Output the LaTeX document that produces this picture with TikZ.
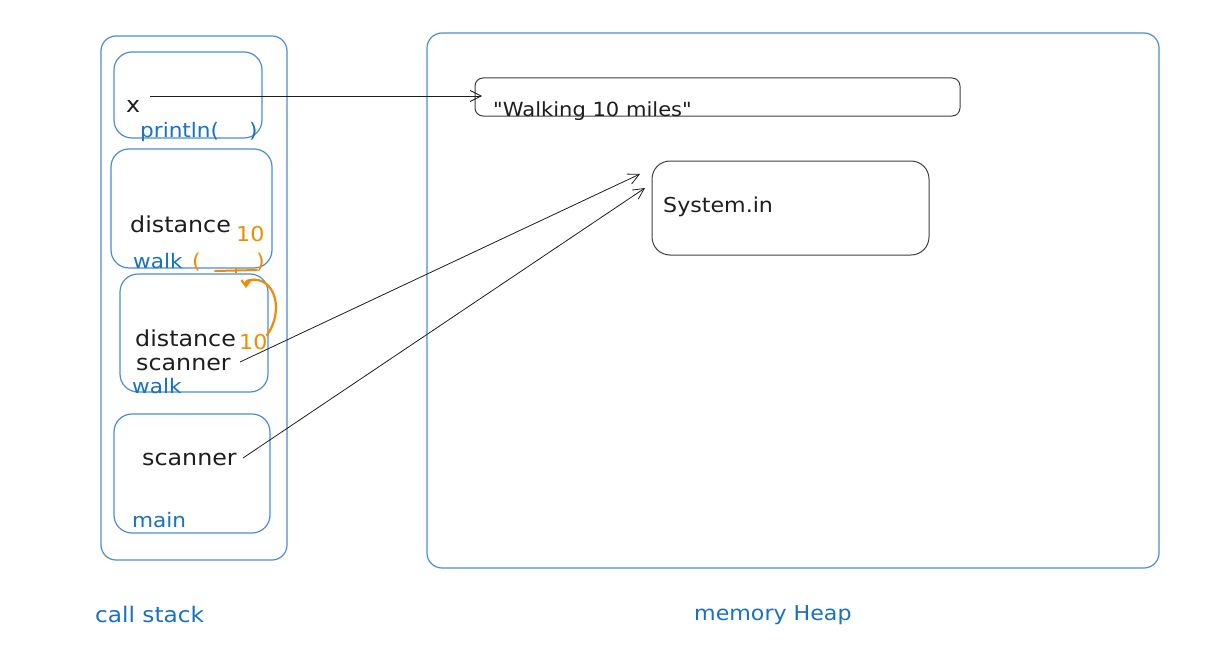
\documentclass[tikz,border=0pt]{standalone}
\usepackage{fontspec}
\newfontfamily\hand[FakeStretch=1.08]{DejaVu Sans}
\usetikzlibrary{arrows.meta}
\definecolor{inkblue}{HTML}{1971C2}
\definecolor{boxblue}{HTML}{4A8CD6}
\definecolor{ink}{HTML}{1E1E1E}
\definecolor{inkorange}{HTML}{F08C00}
\newcommand{\hsz}[1]{\hand\fontsize{#1}{#1}\selectfont}

\tikzset{
  frame/.style={draw=boxblue, line width=1.2pt, rounded corners=16pt},
  objbox/.style={draw=ink!85, line width=1pt},
  lbl/.style={anchor=base west, inner sep=0pt, font=\hsz{22}, text=ink},
  blbl/.style={lbl, font=\hsz{20}, text=inkblue},
  olbl/.style={lbl, font=\hsz{20.5}, text=inkorange},
  ref/.style={draw=ink, line width=0.8pt, -{Straight Barb[length=11pt,width=11pt]}},
}

\begin{document}
\begin{tikzpicture}[x=1pt,y=-1pt]
  \useasboundingbox[fill=white] (0,0) rectangle (1205,661);

  % call stack and its frames
  \draw[frame, rounded corners=15pt] (101,36) rectangle (287,560);
  \draw[frame, rounded corners=18pt] (114,52) rectangle (262,138);
  \draw[frame, rounded corners=18pt] (111,149) rectangle (272,268);
  \draw[frame, rounded corners=18pt] (120,274) rectangle (268,392);
  \draw[frame, rounded corners=18pt] (114,414) rectangle (270,533);

  % heap and its objects
  \draw[frame, rounded corners=15pt] (427,33) rectangle (1159,568);
  \draw[objbox, rounded corners=8pt] (475,78) rectangle (960,116);
  \draw[objbox, rounded corners=18pt] (652,161) rectangle (929,255);

  % println frame
  \node[lbl] (xvar) at (126,112) {x};
  \node[blbl] (printlnlbl) at (140,137) {println(\hspace{30pt})};

  % walk frame (callee)
  \node[lbl] (dist1) at (130,232) {distance};
  \node[olbl] (ten1) at (236,241) {10};
  \node[blbl] (walk1) at (133,268) {walk};
  \node[olbl] (lpar) at (192,268) {(};
  \node[olbl] (rpar) at (256,268) {)};
  \draw[inkorange, line width=2pt, line cap=round] (215,271) -- (257,270);
  \draw[inkorange, line width=1.5pt] (236,268) -- (236,273);

  % walk frame (caller)
  \node[lbl] (dist2) at (135,346) {distance};
  \node[olbl] (ten2) at (239,349) {10};
  \node[lbl] (scan2) at (136,370) {scanner};
  \node[blbl] (walk2) at (132,393) {walk};

  % main frame
  \node[lbl] (scan1) at (142,465) {scanner};
  \node[blbl] (mainlbl) at (132,527) {main};

  % heap contents
  \node[lbl, font=\hsz{19.5}] (strval) at (493,117) {"Walking 10 miles"};
  \node[lbl, font=\hsz{20.5}] (sysin) at (663,212) {System.in};

  % captions
  \node[blbl, font=\hsz{21.5}] (cap1) at (95,622) {call stack};
  \node[blbl, font=\hsz{20.5}] (cap2) at (694,620) {memory Heap};

  % connector ends
  \coordinate (xfrom) at (150,96);
  \coordinate (strto) at (482,96);
  \coordinate (s2from) at (240,362);
  \coordinate (s2to) at (640,174);
  \coordinate (s1from) at (243,458);
  \coordinate (s1to) at (645,188);
  \coordinate (argfrom) at (267,335);
  \coordinate (argto) at (246,288);

  % references
  \draw[ref] (xfrom) -- (strto);
  \draw[ref] (s2from) -- (s2to);
  \draw[ref] (s1from) -- (s1to);

  % argument passed by value
  \draw[inkorange, line width=2.2pt, line cap=round,
        -{Straight Barb[length=6pt,width=9pt]}]
    (argfrom) .. controls (284,312) and (276,276) .. (250,280) .. controls (246,281) .. (argto);
\end{tikzpicture}
\end{document}
